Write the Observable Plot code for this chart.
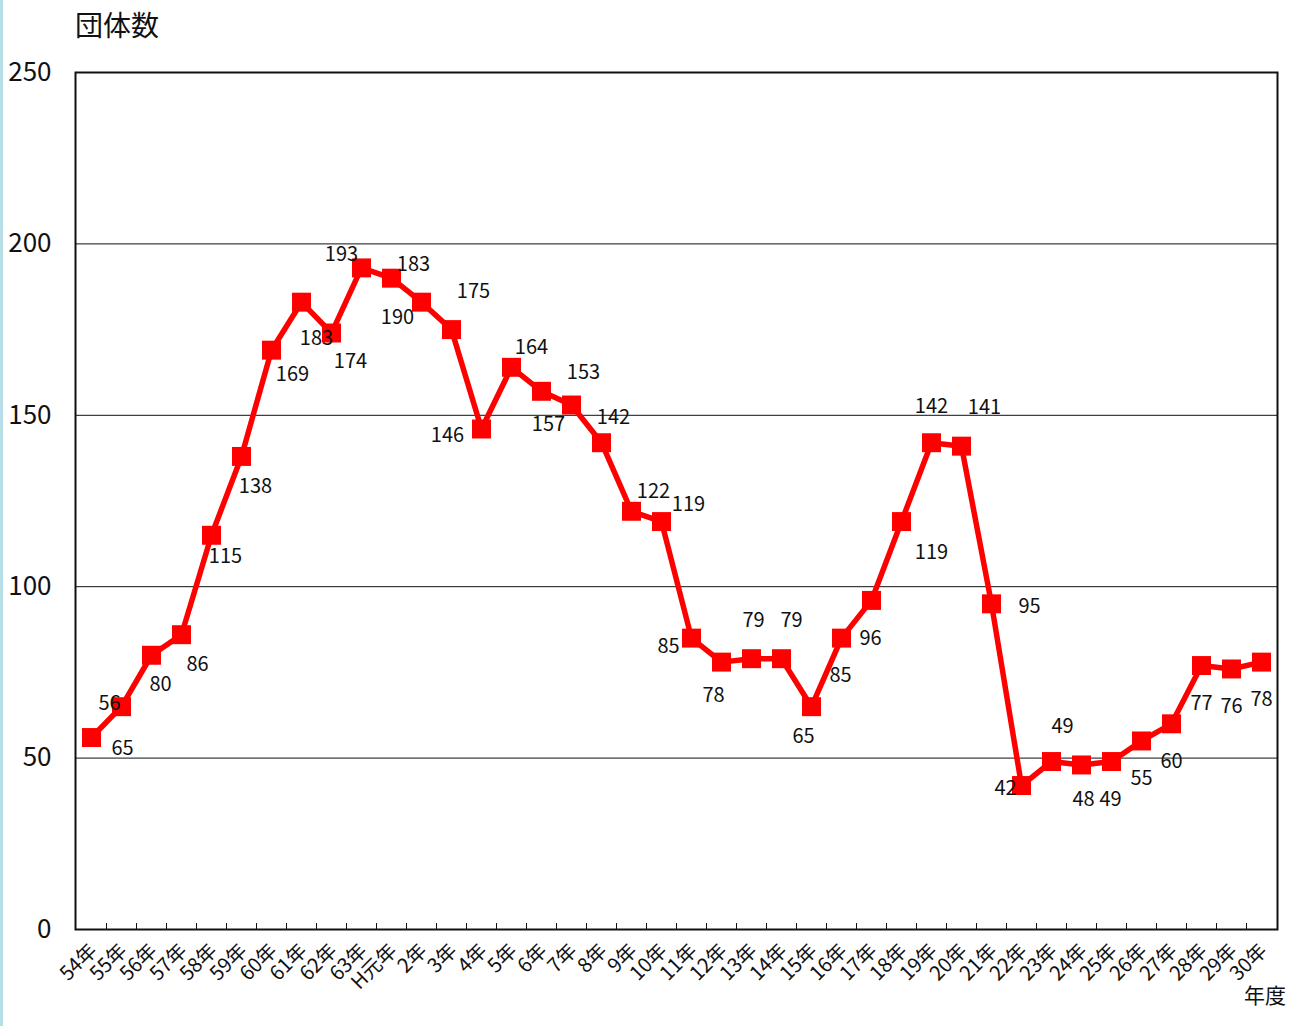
<!DOCTYPE html>
<html><head><meta charset="utf-8">
<script src="https://cdn.jsdelivr.net/npm/d3@7"></script>
<script src="https://cdn.jsdelivr.net/npm/@observablehq/plot@0.6"></script>
<style>
body{margin:0;background:#fff;font-family:"Noto Sans CJK JP",sans-serif;}
#wrap{position:relative;width:1296px;height:1026px;}
#edge{position:absolute;left:0;top:0;width:3px;height:1026px;background:#b7dde6;}
#title{position:absolute;left:75px;top:4px;font-size:28px;color:#111;line-height:40px;}
#unit{position:absolute;left:1244px;top:979px;font-size:21px;color:#111;line-height:30px;}
#chart{position:absolute;left:0;top:0;}
</style></head>
<body><div id="wrap"><div id="chart"></div><div id="edge"></div><div id="title">団体数</div><div id="unit">年度</div></div>
<script>
const categories = ["54年","55年","56年","57年","58年","59年","60年","61年","62年","63年","H元年",
  "2年","3年","4年","5年","6年","7年","8年","9年","10年","11年","12年","13年","14年","15年","16年",
  "17年","18年","19年","20年","21年","22年","23年","24年","25年","26年","27年","28年","29年","30年"];
const counts = [56,65,80,86,115,138,169,183,174,193,190,183,175,146,164,157,153,142,122,119,
  85,78,79,79,65,85,96,119,142,141,95,42,49,48,49,55,60,77,76,78];
const yTicks = [0,50,100,150,200,250];
const gridValues = [50,100,150,200];
// label placement (style): pixel offsets of each value label from its marker
const labelOffsets = [[18,-34],[1,42],[9,29],[16,30],[14,21],[14,30],[21,24],[15,36],[19,29],[-20,-13],
  [6,39],[-8,-38],[22,-38],[-34,7],[20,-20],[7,33],[12,-32],[12,-25],[22,-20],[27,-17],
  [-23,8],[-8,33],[2,-38],[10,-38],[-8,30],[-1,37],[-1,38],[30,31],[0,-36],[23,-39],
  [38,3],[-16,3],[11,-35],[2,35],[-1,38],[0,38],[0,38],[0,38],[0,38],[0,37]];

const data = categories.map((c,i)=>({cat:c, v:counts[i]}));

const labelMarks = data.map((d,i)=>Plot.text([d], {x:"cat", y:"v", text:d=>String(d.v),
  dx:labelOffsets[i][0], dy:labelOffsets[i][1], fontSize:20, fill:"#111"}));

const chart = Plot.plot({
  width:1296, height:1026,
  marginTop:72, marginBottom:97, marginLeft:75, marginRight:19,
  style:{fontFamily:"'Noto Sans CJK JP', sans-serif", background:"transparent", color:"#111"},
  x:{type:"point", domain:categories, padding:0.5, label:null},
  y:{domain:[0,250], label:null},
  marks:[
    Plot.ruleY(gridValues, {stroke:"#111", strokeWidth:1}),
    Plot.frame({stroke:"#111", strokeWidth:2}),
    Plot.tickX(categories.slice(0,-1), {x:d=>d, dx:15, insetTop:851, stroke:"#111", strokeWidth:1}),
    Plot.axisY({ticks:yTicks, tickSize:0, tickPadding:24, fontSize:26, label:null}),
    Plot.axisX({tickRotate:-45, tickSize:0, tickPadding:18, fontSize:20, label:null, dx:2}),
    Plot.line(data, {x:"cat", y:"v", stroke:"#ff0000", strokeWidth:5.5}),
    Plot.dot(data, {x:"cat", y:"v", symbol:"square", r:10.7, fill:"#ff0000", stroke:null}),
    ...labelMarks
  ]
});
document.getElementById("chart").appendChild(chart);
</script></body></html>
